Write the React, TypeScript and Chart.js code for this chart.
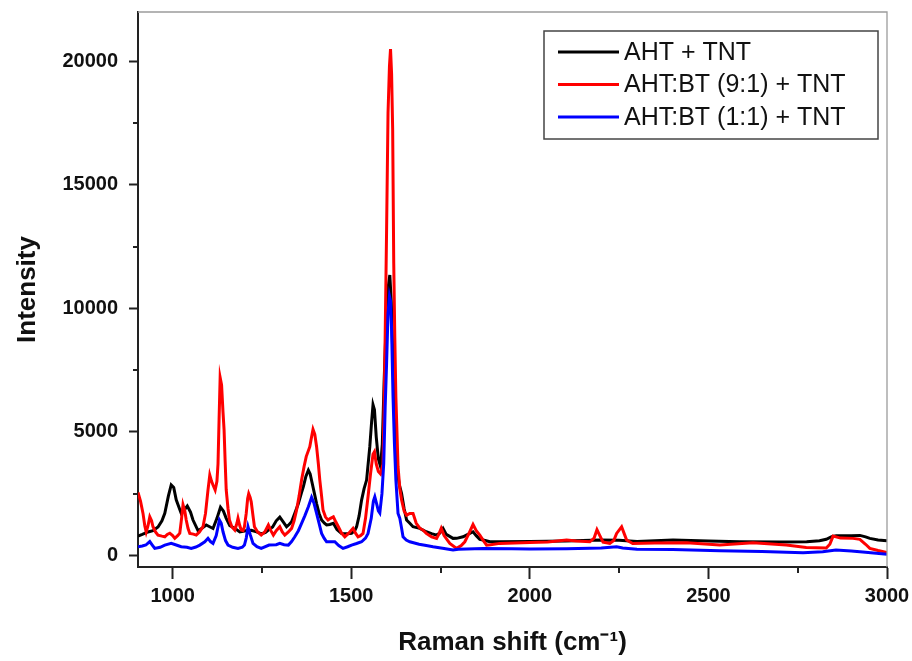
import React, { useEffect, useRef } from "react";
import { Chart, registerables } from "chart.js";

Chart.register(...registerables);

const FONT = "'Liberation Sans', Arial, Helvetica, sans-serif";

// ---- Data ----
const seriesLabels = ["AHT + TNT", "AHT:BT (9:1) + TNT", "AHT:BT (1:1) + TNT"];
const seriesColors = ["#000000", "#ff0000", "#0000ff"];

const ahtShift = [903, 915, 931, 945, 959, 970, 978, 988, 996, 1003, 1010, 1024, 1033, 1041, 1050, 1057, 1071, 1082, 1094, 1105, 1113, 1124, 1134, 1142, 1150, 1160, 1174, 1188, 1205, 1220, 1235, 1249, 1260, 1268, 1280, 1290, 1300, 1310, 1319, 1326, 1333, 1342, 1352, 1360, 1366, 1373, 1380, 1385, 1391, 1397, 1403, 1410, 1417, 1425, 1431, 1440, 1450, 1460, 1473, 1490, 1501, 1510, 1515, 1522, 1529, 1536, 1543, 1552, 1557, 1561, 1565, 1570, 1576, 1582, 1587, 1592, 1598, 1603, 1608, 1612, 1617, 1622, 1627, 1634, 1641, 1648, 1655, 1664, 1673, 1692, 1710, 1725, 1739, 1748, 1757, 1766, 1785, 1795, 1813, 1832, 1841, 1850, 1860, 1875, 1888, 1916, 2000, 2100, 2196, 2250, 2300, 2401, 2500, 2588, 2700, 2775, 2811, 2830, 2845, 2858, 2900, 2924, 2940, 2952, 2975, 3000];
const ahtIntensity = [780, 850, 950, 1000, 1150, 1400, 1700, 2400, 2850, 2750, 2250, 1700, 1850, 2000, 1750, 1430, 1000, 1100, 1230, 1150, 1090, 1500, 1950, 1800, 1500, 1200, 1100, 950, 1000, 1020, 950, 870, 930, 1025, 1150, 1400, 1550, 1350, 1160, 1250, 1360, 1700, 2100, 2500, 2780, 3200, 3450, 3300, 2900, 2500, 2100, 1700, 1430, 1300, 1230, 1250, 1300, 1050, 890, 880, 890, 1000, 1160, 1600, 2240, 2700, 3050, 4400, 5400, 6100, 5900, 4800, 3900, 3600, 4500, 7000, 9500, 10800, 11350, 10300, 7800, 5200, 3700, 2900, 2500, 1900, 1430, 1300, 1160, 1094, 956, 880, 822, 900, 1094, 850, 689, 690, 754, 891, 956, 800, 650, 600, 551, 551, 560, 580, 620, 610, 560, 620, 580, 551, 540, 551, 592, 650, 760, 800, 800, 810, 750, 690, 620, 590];

const bt91Shift = [903, 910, 917, 922, 926, 931, 936, 941, 945, 952, 959, 970, 978, 985, 992, 1000, 1006, 1014, 1020, 1025, 1029, 1034, 1038, 1043, 1048, 1058, 1066, 1075, 1085, 1092, 1099, 1104, 1109, 1113, 1119, 1124, 1127, 1130, 1133, 1137, 1141, 1144, 1147, 1150, 1155, 1159, 1166, 1174, 1180, 1183, 1188, 1192, 1197, 1201, 1206, 1210, 1213, 1217, 1220, 1225, 1229, 1238, 1248, 1258, 1268, 1275, 1282, 1290, 1300, 1307, 1314, 1324, 1333, 1340, 1347, 1354, 1361, 1368, 1374, 1384, 1389, 1393, 1398, 1403, 1408, 1412, 1417, 1421, 1428, 1435, 1442, 1450, 1457, 1464, 1473, 1482, 1493, 1505, 1512, 1519, 1526, 1533, 1540, 1547, 1554, 1561, 1565, 1570, 1576, 1582, 1589, 1594, 1599, 1603, 1607, 1610, 1613, 1616, 1619, 1622, 1625, 1631, 1636, 1641, 1648, 1655, 1664, 1673, 1682, 1692, 1701, 1710, 1725, 1739, 1745, 1752, 1760, 1776, 1795, 1808, 1818, 1830, 1841, 1850, 1860, 1870, 1879, 1890, 1916, 2000, 2050, 2103, 2130, 2168, 2180, 2188, 2196, 2205, 2224, 2235, 2243, 2257, 2265, 2271, 2288, 2350, 2439, 2532, 2625, 2718, 2774, 2830, 2840, 2849, 2870, 2905, 2924, 2940, 2952, 2975, 3000];
const bt91Intensity = [2550, 2200, 1700, 1200, 950, 1200, 1560, 1400, 1160, 950, 820, 780, 754, 850, 900, 800, 690, 800, 900, 1500, 2050, 1800, 1430, 1100, 890, 860, 822, 950, 1160, 1700, 2650, 3250, 3000, 2850, 2650, 3000, 3700, 5500, 7200, 6900, 5800, 5080, 3800, 2650, 1900, 1430, 1150, 1025, 1300, 1500, 1200, 1025, 1000, 1160, 1700, 2300, 2500, 2350, 2170, 1600, 1160, 950, 822, 950, 1228, 1000, 822, 1000, 1160, 950, 822, 950, 1094, 1400, 1836, 2400, 3050, 3600, 4000, 4400, 4800, 5100, 4900, 4400, 3700, 3050, 2400, 1836, 1550, 1430, 1500, 1565, 1350, 1160, 900, 754, 900, 1094, 900, 754, 800, 891, 1500, 2375, 3300, 4100, 4200, 3700, 3400, 3300, 3700, 7780, 13180, 17900, 19800, 20500, 19500, 17250, 11830, 8800, 6400, 3600, 2700, 2240, 1800, 1630, 1700, 1700, 1300, 1100, 1025, 890, 750, 689, 850, 1094, 800, 486, 284, 400, 551, 900, 1250, 1000, 822, 600, 417, 430, 486, 520, 540, 620, 580, 551, 700, 1040, 800, 540, 485, 600, 891, 1160, 850, 620, 480, 500, 510, 420, 510, 417, 324, 300, 450, 780, 700, 689, 648, 450, 284, 200, 120];

const bt11Shift = [903, 915, 925, 936, 943, 950, 965, 978, 996, 1010, 1024, 1040, 1052, 1065, 1076, 1090, 1099, 1106, 1113, 1122, 1131, 1136, 1141, 1148, 1155, 1168, 1183, 1195, 1201, 1206, 1211, 1217, 1225, 1236, 1248, 1270, 1290, 1300, 1312, 1324, 1333, 1342, 1352, 1361, 1370, 1380, 1389, 1396, 1403, 1410, 1417, 1424, 1431, 1454, 1465, 1477, 1490, 1501, 1515, 1529, 1540, 1547, 1556, 1562, 1566, 1571, 1576, 1580, 1586, 1591, 1595, 1599, 1603, 1607, 1610, 1613, 1617, 1621, 1625, 1631, 1636, 1641, 1645, 1654, 1664, 1690, 1710, 1729, 1760, 1785, 1800, 1869, 1950, 2000, 2103, 2200, 2243, 2260, 2300, 2400, 2532, 2650, 2765, 2820, 2857, 2900, 2932, 2970, 3000];
const bt11Intensity = [350, 380, 420, 560, 420, 284, 330, 417, 486, 420, 350, 330, 284, 340, 417, 550, 690, 560, 486, 800, 1430, 1300, 956, 600, 417, 330, 284, 330, 420, 700, 1160, 850, 486, 350, 284, 417, 430, 486, 430, 417, 560, 754, 1000, 1297, 1600, 1970, 2350, 2100, 1700, 1300, 891, 700, 551, 551, 400, 284, 350, 417, 480, 551, 700, 891, 1500, 2200, 2375, 2100, 1800, 1713, 2500, 3728, 6000, 7780, 9800, 10500, 10300, 9130, 6426, 4500, 3051, 1700, 1500, 1100, 754, 620, 551, 450, 400, 348, 280, 215, 250, 284, 270, 260, 270, 300, 348, 300, 250, 240, 189, 160, 108, 150, 216, 180, 135, 90, 50];

const xMin = 903;
const xMax = 3000;
const xTickValues = [1000, 1500, 2000, 2500, 3000];
const xMinorTicks = [1250, 1750, 2250, 2750];
const yMin = -470;
const yMax = 22000;
const yTickValues = [0, 5000, 10000, 15000, 20000];
const yMinorTicks = [2500, 7500, 12500, 17500];

const xTitle = "Raman shift (cm\u207B\u00B9)";
const yTitle = "Intensity";

function toPoints(xs: number[], ys: number[]) {
  return xs.map((x, i) => ({ x, y: ys[i] }));
}

const decorPlugin = {
  id: "decor",
  afterDraw(chart: any) {
    const { ctx, chartArea: a, scales } = chart;
    const xs = scales.x;
    const ys = scales.y;
    ctx.save();
    // grey frame on top and right
    ctx.strokeStyle = "#9c9c9c";
    ctx.lineWidth = 1.3;
    ctx.beginPath();
    ctx.moveTo(a.left, a.top);
    ctx.lineTo(a.right, a.top);
    ctx.lineTo(a.right, a.bottom);
    ctx.stroke();

    // minor ticks
    ctx.strokeStyle = "#222222";
    ctx.lineWidth = 2;
    ctx.beginPath();
    for (const v of xMinorTicks) {
      const px = Math.round(xs.getPixelForValue(v));
      ctx.moveTo(px, a.bottom);
      ctx.lineTo(px, a.bottom + 6);
    }
    for (const v of yMinorTicks) {
      const py = Math.round(ys.getPixelForValue(v));
      ctx.moveTo(a.left, py);
      ctx.lineTo(a.left - 5, py);
    }
    ctx.stroke();

    // legend box
    const boxW = 334;
    const boxH = 108;
    const bx = a.right - 343;
    const by = a.top + 19;
    ctx.fillStyle = "#ffffff";
    ctx.fillRect(bx, by, boxW, boxH);
    ctx.strokeStyle = "#444444";
    ctx.lineWidth = 1.5;
    ctx.strokeRect(bx, by, boxW, boxH);
    ctx.font = `25px ${FONT}`;
    ctx.textBaseline = "middle";
    ctx.textAlign = "left";
    chart.data.datasets.forEach((ds: any, i: number) => {
      const yy = by + 21 + i * 32.5;
      ctx.strokeStyle = ds.borderColor;
      ctx.lineWidth = 3;
      ctx.beginPath();
      ctx.moveTo(bx + 14, yy);
      ctx.lineTo(bx + 75, yy);
      ctx.stroke();
      ctx.fillStyle = "#111111";
      ctx.fillText(ds.label, bx + 80, yy + 1);
    });
    ctx.restore();
  },
};

export default function App() {
  const canvasRef = useRef<HTMLCanvasElement | null>(null);

  useEffect(() => {
    const canvas = canvasRef.current;
    if (!canvas) return;
    const chart = new Chart(canvas, {
      type: "line",
      data: {
        datasets: [
          {
            label: seriesLabels[0],
            data: toPoints(ahtShift, ahtIntensity),
            borderColor: seriesColors[0],
            backgroundColor: seriesColors[0],
            borderWidth: 3,
            pointRadius: 0,
            tension: 0,
            order: 3,
          },
          {
            label: seriesLabels[1],
            data: toPoints(bt91Shift, bt91Intensity),
            borderColor: seriesColors[1],
            backgroundColor: seriesColors[1],
            borderWidth: 3,
            pointRadius: 0,
            tension: 0,
            order: 2,
          },
          {
            label: seriesLabels[2],
            data: toPoints(bt11Shift, bt11Intensity),
            borderColor: seriesColors[2],
            backgroundColor: seriesColors[2],
            borderWidth: 3,
            pointRadius: 0,
            tension: 0,
            order: 1,
          },
        ],
      },
      options: {
        animation: false,
        responsive: false,
        maintainAspectRatio: false,
        layout: { padding: { left: 0, top: 12, right: 25, bottom: 0 } },
        plugins: {
          legend: { display: false },
          tooltip: { enabled: false },
          title: { display: false },
        },
        scales: {
          x: {
            type: "linear",
            min: xMin,
            max: xMax,
            afterBuildTicks: (s: any) => {
              s.ticks = xTickValues.map((v) => ({ value: v }));
            },
            afterFit: (s: any) => {
              s.height = 94;
              s.paddingLeft = 0;
              s.paddingRight = 0;
            },
            ticks: {
              padding: 5,
              color: "#111111",
              font: { family: FONT, size: 20, weight: "bold" },
              maxRotation: 0,
              autoSkip: false,
              callback: (v: any) => String(v),
            },
            grid: {
              drawOnChartArea: false,
              drawTicks: true,
              tickLength: 12,
              tickWidth: 2,
              tickColor: "#222222",
            },
            border: { display: true, width: 2, color: "#222222" },
            title: {
              display: true,
              text: xTitle,
              color: "#111111",
              font: { family: FONT, size: 26, weight: "bold" },
              padding: { top: 0, bottom: 3 },
            },
          },
          y: {
            type: "linear",
            min: yMin,
            max: yMax,
            afterBuildTicks: (s: any) => {
              s.ticks = yTickValues.map((v) => ({ value: v }));
            },
            afterFit: (s: any) => {
              s.width = 138;
              s.paddingTop = 0;
              s.paddingBottom = 0;
            },
            ticks: {
              padding: 11,
              color: "#111111",
              font: { family: FONT, size: 20, weight: "bold" },
              autoSkip: false,
              callback: (v: any) => String(v),
            },
            grid: {
              drawOnChartArea: false,
              drawTicks: true,
              tickLength: 9,
              tickWidth: 2,
              tickColor: "#222222",
            },
            border: { display: true, width: 2, color: "#222222" },
            title: {
              display: true,
              text: yTitle,
              color: "#111111",
              font: { family: FONT, size: 26, weight: "bold" },
              padding: { top: 12, bottom: 0 },
            },
          },
        },
      },
      plugins: [decorPlugin],
    } as any);
    return () => chart.destroy();
  }, []);

  return (
    <div style={{ position: "absolute", left: 0, top: 0, width: 912, height: 661, background: "#ffffff" }}>
      <canvas ref={canvasRef} width={912} height={661} style={{ display: "block", width: 912, height: 661 }} />
    </div>
  );
}
